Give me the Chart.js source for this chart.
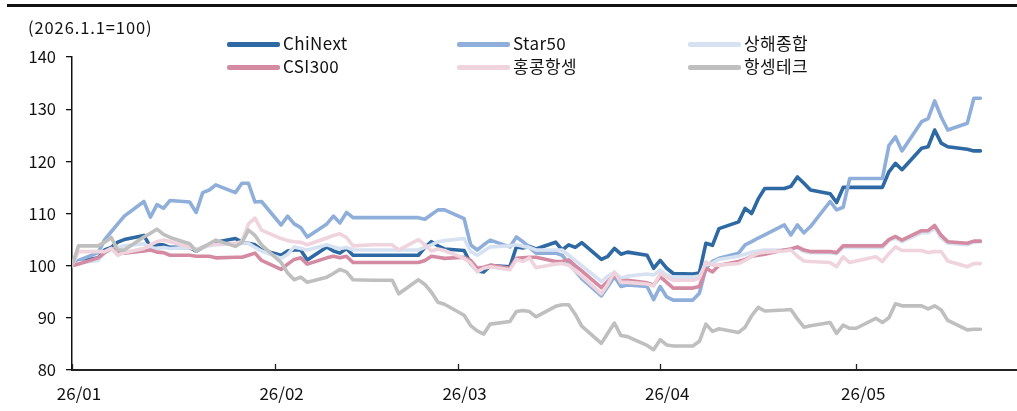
<!DOCTYPE html>
<html>
<head>
<meta charset="utf-8">
<script src="https://cdn.jsdelivr.net/npm/chart.js@4.4.1/dist/chart.umd.min.js"></script>
<style>
  html, body { margin: 0; padding: 0; background: #fff; }
  #wrap { position: relative; width: 1017px; height: 411px; overflow: hidden; font-family: 'Noto Sans CJK KR', 'Noto Sans', sans-serif; color: #111; }
  #topline { position: absolute; left: 7px; top: 4px; width: 1010px; height: 2.5px; background: #111; }
  #unit { position: absolute; left: 28px; top: 16px; font-size: 16.5px; line-height: 22px; letter-spacing: 0.9px; }
  .lg { position: absolute; font-size: 17px; line-height: 20px; white-space: nowrap; letter-spacing: 0.4px; }
  .lg i { position: absolute; left: 0; top: 8px; width: 53px; height: 4.5px; border-radius: 2px; }
  .lg span { position: absolute; left: 56px; top: -1px; }
  canvas { position: absolute; left: 0; top: 0; }
</style>
</head>
<body>
<div id="wrap">
  <canvas id="c" width="1017" height="411"></canvas>
  <div id="topline"></div>
  <div id="unit">(2026.1.1=100)</div>
  <div id="legend"></div>
</div>
<script>
// ---- data ----
const dates = [
  '01-01','01-02',
  '01-05','01-06','01-07','01-08','01-09',
  '01-12','01-13','01-14','01-15','01-16',
  '01-19','01-20','01-21','01-22','01-23',
  '01-26','01-27','01-28','01-29','01-30',
  '02-02','02-03','02-04','02-05','02-06',
  '02-09','02-10','02-11','02-12','02-13',
  '02-16','02-17','02-18','02-19','02-20',
  '02-23','02-24','02-25','02-26','02-27',
  '03-02','03-03','03-04','03-05','03-06',
  '03-09','03-10','03-11','03-12','03-13',
  '03-16','03-17','03-18','03-19','03-20',
  '03-23','03-24','03-25','03-26','03-27',
  '03-30','03-31','04-01','04-02','04-03',
  '04-06','04-07','04-08','04-09','04-10',
  '04-13','04-14','04-15','04-16','04-17',
  '04-20','04-21','04-22','04-23','04-24',
  '04-27','04-28','04-29','04-30','05-01',
  '05-04','05-05','05-06','05-07','05-08',
  '05-11','05-12','05-13','05-14','05-15',
  '05-18','05-19','05-20'
];

const seriesNames = ['ChiNext', 'Star50', '상해종합', 'CSI300', '홍콩항셍', '항셍테크'];

const chinext = [
  100, 100.8,
  101.5, 103, 103.5, 104.5, 105,
  105.8, 103.6, 104, 104, 103.5,
  103.5, 102.8, 103.5, 104, 104.5,
  105.2, 104.5, 104.3, 104, 103,
  102, 102.8, 103, 103, 101.1,
  103.6, 102.8, 102.4, 103.3, 102,
  102, 102, 102, 102, 102,
  102, 103.5, 104.6, 103.8, 103.2,
  102.9, 100.4, 99, 98.8, 100,
  99.8, 103.6, 103.4, 103.7, 103.2,
  104.5, 103, 104, 103.5, 104.4,
  101.2, 101.8, 103.3, 102.2, 102.6,
  102, 99.5, 101, 99.5, 98.5,
  98.4, 98.6, 104.3, 103.9, 107.1,
  108.4, 111, 110, 112.8, 114.8,
  114.8, 115.2, 117, 115.8, 114.5,
  113.8, 112.1, 115, 115, 115,
  115, 115, 118, 119.6, 118.4,
  122.5, 122.8, 126, 123.5, 122.8,
  122.3, 122, 122
];

const star50 = [
  100, 101,
  102.5, 105, 106.5, 108, 109.5,
  112.3, 109.3, 111.7, 111, 112.5,
  112.2, 110.2, 114, 114.5, 115.5,
  114, 115.8, 115.8, 112.2, 112.3,
  107.8, 109.5, 108, 107.3, 105.5,
  108, 109.5, 108.2, 110.2, 109.2,
  109.2, 109.2, 109.2, 109.2, 109.2,
  109.2, 108.9, 109.8, 110.7, 110.7,
  109, 104, 103, 104, 104.9,
  103.6, 105.5, 104.6, 103.5, 102.4,
  102.4, 102, 100.5, 99, 97.5,
  94.2, 96, 97.9, 96, 96.3,
  96, 93.5, 96, 94, 93.4,
  93.4, 94.7, 99.5, 100.8, 101.4,
  102.4, 104, 104.6, 105.3, 105.9,
  107.8, 105.9, 107.8, 106.3, 107.5,
  112.3, 110.7, 111.2, 116.7, 116.7,
  116.7, 116.7, 123, 124.7, 122,
  127.6, 128.2, 131.6, 128.5, 126,
  127.3, 132.1, 132.1
];

const shanghai = [
  100, 100.5,
  101, 102.5, 103.2, 103.5, 103.8,
  104.2, 103.5, 103.3, 103.5, 103.3,
  103.5, 103.2, 103.5, 103.8, 104,
  104.2, 104.4, 104.3, 103.5, 102.8,
  101.4, 102.2, 103.6, 103.3, 103,
  104, 103.6, 103.3, 103.5, 103,
  103, 103, 103, 103, 103,
  103, 103.5, 104, 104.6, 104.8,
  105.2, 102.7, 102, 102.8, 103.6,
  103.8, 104, 103.7, 103.5, 103,
  103, 103, 102, 101, 100,
  97, 98, 98.7, 97.6, 98,
  98.4, 98.2, 99.2, 98.2, 97.8,
  97.8, 98, 100.1, 100.5, 101.2,
  101.8, 102.2, 102.6, 102.8, 103,
  103, 103.2, 103.4, 102.7, 102.5,
  102.5, 102.3, 103.5, 103.5, 103.5,
  103.5, 103.5, 104.8, 105.3, 104.6,
  106.3, 106.3, 107.2, 105.3, 104.3,
  104, 104.5, 104.6
];

const csi300 = [
  100, 100.3,
  101.5, 102.5, 103.3, 102.8, 102.4,
  102.8, 103, 102.6, 102.5, 102,
  102, 101.8, 101.8, 101.8, 101.5,
  101.6, 101.6, 102, 102.4, 101,
  99.3, 100.3, 101.2, 101.5, 100.3,
  101.5, 101.8, 101.5, 101.8, 100.6,
  100.6, 100.6, 100.6, 100.6, 100.6,
  100.6, 101, 101.8, 101.6, 101.4,
  101.6, 101, 99.5, 99.7, 100.1,
  99.5, 101.4, 101.5, 101.6, 101.6,
  100.8, 100.8, 101.1, 100, 99,
  95.8, 97, 98.2, 97, 97.2,
  96.7, 96.3, 97.9, 96.8, 95.7,
  95.7, 96, 99.5, 98.8, 100.1,
  100.8, 101.2, 101.8, 102, 102.2,
  103, 103.2, 103.6, 103, 102.7,
  102.7, 102.5, 103.8, 103.8, 103.8,
  103.8, 103.8, 105, 105.6, 104.9,
  106.7, 106.7, 107.7, 105.8, 104.6,
  104.3, 104.7, 104.7
];

const hangseng = [
  100, 102.7,
  102.7, 102.7, 103.3, 102, 102.5,
  103.3, 104, 104.6, 104.9, 104.6,
  103.6, 103, 103.5, 104, 104.1,
  104.3, 104.6, 108, 109.1, 106.8,
  105.2, 104.8, 104.6, 104.5, 104,
  105.3, 105.8, 106.1, 105.4, 103.8,
  104, 104, 104, 104, 103,
  105, 104, 102.8, 103.2, 102.9,
  101.4, 100.5, 98.8, 99.5, 99.8,
  99.2, 101.2, 100.8, 101.5, 99.6,
  100.3, 100.4, 100.1, 99, 98,
  94.6, 96.5, 98.8, 96.8, 96.8,
  96.5, 96.1, 98.5, 97.8, 97.2,
  97.2, 97.6, 100.7, 100.1, 100.1,
  100.4, 101, 101.8, 102.4, 102.6,
  102.8, 103, 101.8, 100.9, 100.8,
  100.6, 99.8, 101.7, 100.6, 100.9,
  101.7, 100.8, 102.3, 103.6, 102.9,
  102.9, 102.5, 102.7, 102.7, 100.9,
  99.8, 100.4, 100.4
];

const hstech = [
  100, 103.8,
  103.8, 104.5, 105.4, 103, 103,
  105.5, 106.2, 107, 106, 105.4,
  104.2, 102.8, 103.5, 104.2, 104.9,
  103.7, 104.4, 106.8, 105.8, 104,
  100.6, 98.6, 97.3, 97.8, 96.8,
  97.8, 98.5, 99.3, 98.8, 97.3,
  97.2, 97.2, 97.2, 97.2, 94.6,
  97.3, 96.4, 94.9, 93, 92.6,
  90.5, 88.5, 87.5, 86.9, 88.8,
  89.3, 91.2, 91.4, 91.2, 90.2,
  92.2, 92.5, 92.5, 90.7, 88.4,
  85.1, 87.1, 89, 86.6, 86.4,
  84.7, 83.9, 85.8, 84.8, 84.6,
  84.6, 85.5, 88.8, 87.4, 87.9,
  87.2, 88.2, 90.4, 92, 91.3,
  91.5, 91.6, 89.8, 88.2, 88.5,
  89.1, 87, 88.6, 88, 88,
  89.9, 89.1, 90, 92.7, 92.3,
  92.3, 91.7, 92.3, 91.5, 89.5,
  87.7, 87.8, 87.8
];

const tickDates = ['01-01', '02-01', '03-01', '04-01', '05-01'];
const tickLabels = ['26/01', '26/02', '26/03', '26/04', '26/05'];
const yTicks = [80, 90, 100, 110, 120, 130, 140];

// ---- styles ----
const colors = ['#2e69a4', '#8fafda', '#d6e2f1', '#d48ba2', '#efd3dd', '#bfbfbf'];
const values = [chinext, star50, shanghai, csi300, hangseng, hstech];

function dayOf(md) {
  const [m, d] = md.split('-').map(Number);
  return (Date.UTC(2026, m - 1, d) - Date.UTC(2026, 0, 1)) / 86400000;
}
const xs = dates.map(dayOf);
const tickDays = tickDates.map(dayOf);

const datasets = seriesNames.map((name, i) => ({
  label: name,
  data: values[i].map((v, k) => ({ x: xs[k], y: v })),
  borderColor: colors[i],
  backgroundColor: colors[i],
  borderWidth: 3.6,
  pointRadius: 0,
  tension: 0,
  borderJoinStyle: 'round',
  borderCapStyle: 'round',
  order: seriesNames.length - i
}));

// legend (HTML)
const legendPos = [[227, 34], [457, 34], [688, 34], [227, 57], [457, 57], [688, 57]];
const lg = document.getElementById('legend');
seriesNames.forEach((name, k) => {
  const d = document.createElement('div');
  d.className = 'lg';
  d.style.left = legendPos[k][0] + 'px';
  d.style.top = legendPos[k][1] + 'px';
  d.innerHTML = '<i style="background:' + colors[k] + '"></i><span>' + name + '</span>';
  lg.appendChild(d);
});

const innerTicks = {
  id: 'innerTicks',
  afterDraw(chart) {
    const xScale = chart.scales.x;
    const ctx = chart.ctx;
    const y0 = chart.chartArea.bottom;
    ctx.save();
    ctx.strokeStyle = '#222';
    ctx.lineWidth = 1.3;
    xScale.ticks.forEach(t => {
      const px = Math.round(xScale.getPixelForValue(t.value)) + 0.5;
      ctx.beginPath();
      ctx.moveTo(px, y0);
      ctx.lineTo(px, y0 - 6);
      ctx.stroke();
    });
    ctx.restore();
  }
};

Chart.defaults.font.family = "'Noto Sans CJK KR', 'Noto Sans', sans-serif";
Chart.defaults.font.size = 16;
Chart.defaults.color = '#111';

new Chart(document.getElementById('c'), {
  type: 'line',
  data: { datasets },
  options: {
    responsive: false,
    animation: false,
    layout: { padding: { left: 0, top: 57, right: 0, bottom: 0 } },
    plugins: { legend: { display: false }, tooltip: { enabled: false } },
    scales: {
      x: {
        type: 'linear',
        min: 0,
        max: 144.6,
        afterFit(scale) { scale.height = 41; },
        afterBuildTicks(scale) { scale.ticks = tickDays.map(v => ({ value: v })); },
        ticks: {
          autoSkip: false,
          maxRotation: 0,
          padding: 13,
          labelOffset: 7,
          font: { size: 17 },
          callback(value, index) { return tickLabels[index]; }
        },
        grid: { display: true, drawOnChartArea: false, drawTicks: false },
        border: { display: true, color: '#222', width: 2 }
      },
      y: {
        min: 80,
        max: 140,
        afterFit(scale) { scale.width = 72; },
        afterBuildTicks(scale) { scale.ticks = yTicks.map(v => ({ value: v })); },
        ticks: { padding: 10, font: { size: 16.5 } },
        grid: { drawOnChartArea: false, drawTicks: true, tickLength: 6, color: '#111', lineWidth: 1.3 },
        border: { display: true, color: '#111', width: 1.5 }
      }
    }
  },
  plugins: [innerTicks]
});
</script>
</body>
</html>
